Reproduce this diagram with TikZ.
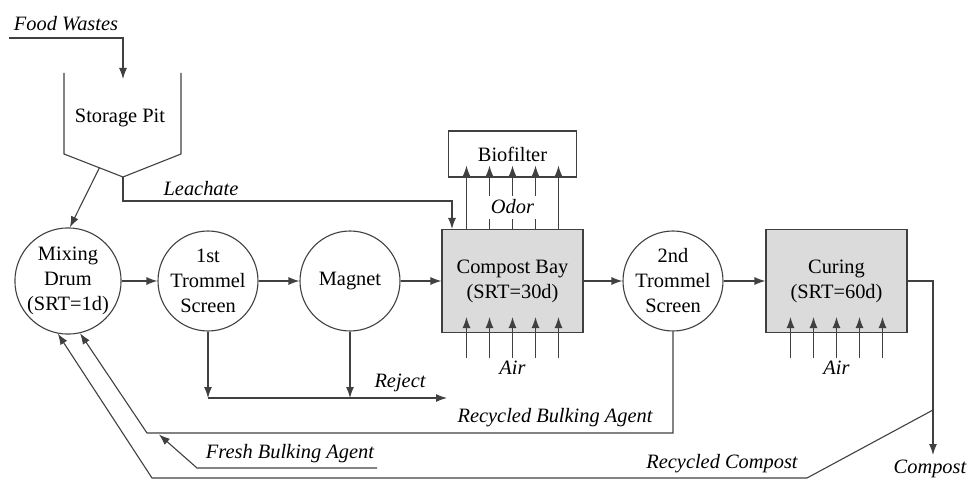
\documentclass[tikz,border=0pt]{standalone}
\usepackage{fontspec}
\setmainfont{Liberation Serif}
\usetikzlibrary{arrows.meta,calc}
\begin{document}
\begin{tikzpicture}[x=1pt,y=-1pt,
  txt/.style={font=\fontsize{20.4}{25}\selectfont, inner sep=0pt},
  lbl/.style={font=\fontsize{20.4}{25}\selectfont\itshape, inner sep=0pt},
  line/.style={draw=black!75, line width=1.1pt},
  arr/.style={line, -{Latex[length=11pt,width=8pt]}},
  unit/.style={circle, line, minimum size=100pt, inner sep=0pt, align=center,
    font=\fontsize{20.4}{25}\selectfont},
  tank/.style={rectangle, line, fill=black!14, minimum width=141pt,
    minimum height=103pt, inner sep=0pt, align=center,
    font=\fontsize{20.4}{25}\selectfont},
  filterbox/.style={rectangle, line, minimum width=128pt, minimum height=46pt,
    inner sep=0pt, font=\fontsize{20.4}{25}\selectfont},
]
\useasboundingbox (0,0) rectangle (970,481);

% storage pit (hopper outline)
\coordinate (pitTL) at (64,73);
\coordinate (pitBL) at (64,154);
\coordinate (pitB)  at (123,177);
\coordinate (pitBR) at (181,154);
\coordinate (pitTR) at (181,73);
\draw[line] (pitTL) -- (pitBL) -- (pitB) -- (pitBR) -- (pitTR);
\node[txt] (pit) at (120,118) {Storage Pit};

% process units
\node[unit] (drum)   at (68,281)  {Mixing\\Drum\\(SRT=1d)};
\node[unit] (trom1)  at (208,281) {1st\\Trommel\\Screen};
\node[unit] (magnet) at (350,281) {Magnet};
\node[tank] (bay)    at (512.5,281) {Compost Bay\\(SRT=30d)};
\node[unit] (trom2)  at (673,281) {2nd\\Trommel\\Screen};
\node[tank] (curing) at (836.5,281) {Curing\\(SRT=60d)};
\node[filterbox] (bio) at (512.5,154) {Biofilter};

% food waste feed
\node[lbl] (food) at (66,24) {Food Wastes};
\coordinate (fw) at (9,38);
\coordinate (pitin) at (123,79);
\draw[arr] (fw) -| (pitin);

% pit to mixing drum
\coordinate (pitout) at ($(pitBL)!0.6!(pitB)$);
\draw[arr] (pitout) -- (drum.88);

% leachate to compost bay
\coordinate (lk) at (452,201);
\draw[arr] (pitB) |- (lk) -- (lk |- bay.north);
\node[lbl] (leach) at (201,189) {Leachate};

% main line
\draw[arr] (drum) -- (trom1);
\draw[arr] (trom1) -- (magnet);
\draw[arr] (magnet) -- (bay);
\draw[arr] (bay) -- (trom2);
\draw[arr] (trom2) -- (curing);

% odor to biofilter
\foreach \d in {-46,46}
  \draw[arr] ([xshift=\d pt]bay.north) -- ([xshift=\d pt,yshift=12pt]bio.south);
\foreach \d in {-23,0,23} {
  \draw[line] ([xshift=\d pt]bay.north) -- ([xshift=\d pt,yshift=10pt]bay.north);
  \draw[arr] ([xshift=\d pt,yshift=-18pt]bio.south) -- ([xshift=\d pt,yshift=12pt]bio.south);
}
\node[lbl] (odor) at (512.5,207) {Odor};

% aeration
\foreach \d in {-46,-23,0,23,46} {
  \draw[arr] ([xshift=\d pt,yshift=-25pt]bay.south) -- ([xshift=\d pt,yshift=16pt]bay.south);
  \draw[arr] ([xshift=\d pt,yshift=-25pt]curing.south) -- ([xshift=\d pt,yshift=16pt]curing.south);
}
\node[lbl] (air1) at (512.5,368) {Air};
\node[lbl] (air2) at (836.5,368) {Air};

% rejects
\coordinate (rjend) at (447,398);
\draw[arr] (trom1.south) -- (trom1.south |- rjend);
\draw[arr] (magnet.south) -- (magnet.south |- rjend);
\draw[arr] (trom1.south |- rjend) -- (rjend);
\node[lbl] (reject) at (400,383) {Reject};

% recycled bulking agent
\coordinate (rb) at (147,433);
\draw[arr] (trom2.south) |- (rb) -- (drum.283);
\node[lbl] (rbl) at (555,418) {Recycled Bulking Agent};

% fresh bulking agent
\coordinate (fb) at (377,468);
\coordinate (fbk) at (197,468);
\coordinate (fbtip) at (159,434.5);
\draw[arr] (fb) -- (fbk) -- (fbtip);
\node[lbl] (fbl) at (290,454) {Fresh Bulking Agent};

% compost product and recycled compost
\coordinate (cp) at (933,455);
\draw[arr] (curing.east) -| (cp);
\node[lbl] (compost) at (930,469) {Compost};
\coordinate (rcs) at (933,410);
\coordinate (rck) at (807,478);
\coordinate (rcc) at (152,478);
\draw[arr] (rcs) -- (rck) -- (rcc) -- (drum.259);
\node[lbl] (rcl) at (722,464) {Recycled Compost};
\end{tikzpicture}
\end{document}
